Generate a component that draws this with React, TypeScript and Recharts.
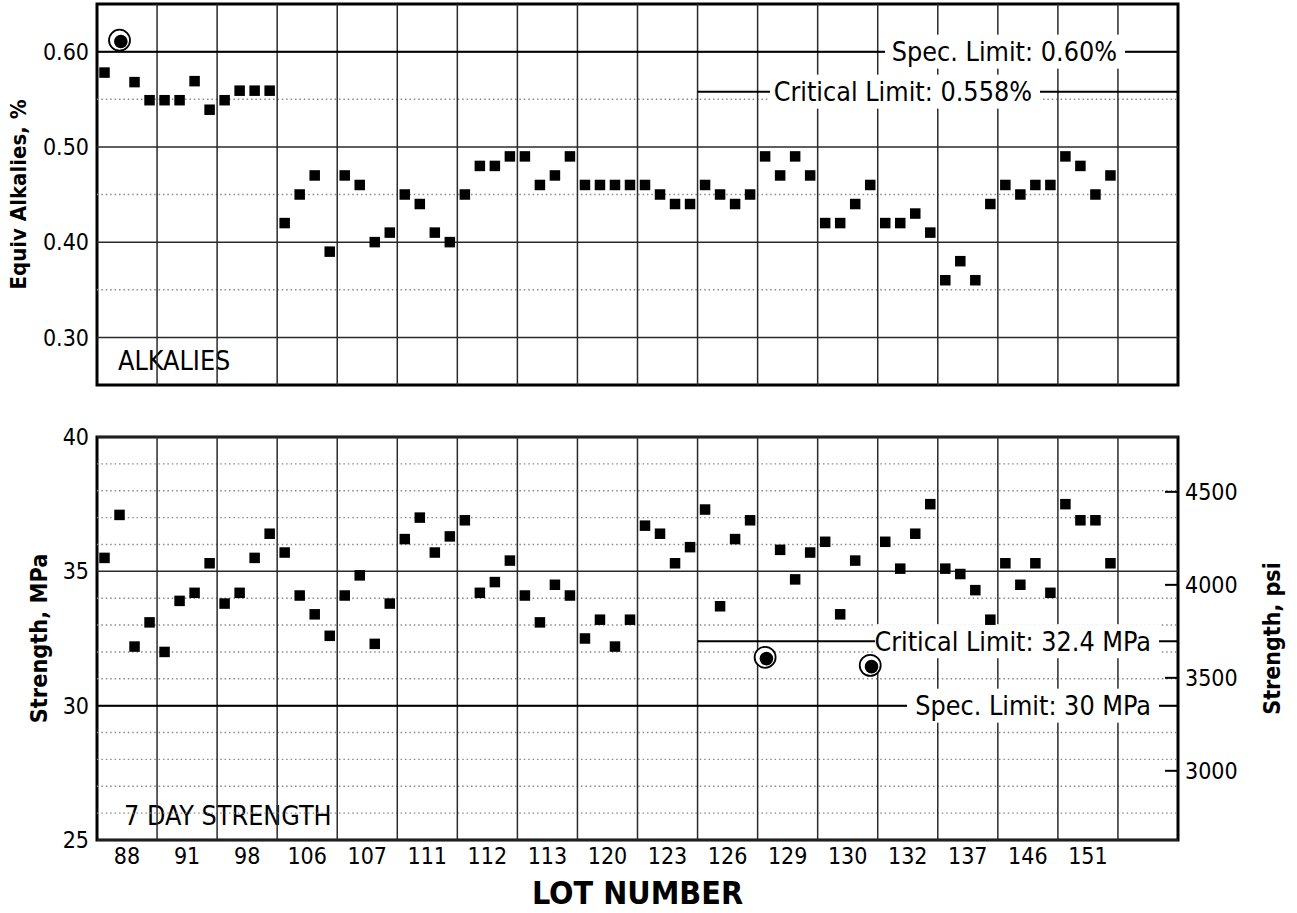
import React from 'react';
import { ScatterChart, Scatter, XAxis, YAxis, ReferenceLine, ReferenceArea } from 'recharts';

// ---------- data ----------
const lotLabels = ['88', '91', '98', '106', '107', '111', '112', '113', '120', '123', '126', '129', '130', '132', '137', '146', '151'];
const samplesPerLot = 4;
const emptyTrailingLots = 1;

const alkaliValues = [
  0.578, 0.612, 0.568, 0.549,
  0.549, 0.549, 0.569, 0.539,
  0.549, 0.559, 0.559, 0.559,
  0.42, 0.45, 0.47, 0.39,
  0.47, 0.46, 0.40, 0.41,
  0.45, 0.44, 0.41, 0.40,
  0.45, 0.48, 0.48, 0.49,
  0.49, 0.46, 0.47, 0.49,
  0.46, 0.46, 0.46, 0.46,
  0.46, 0.45, 0.44, 0.44,
  0.46, 0.45, 0.44, 0.45,
  0.49, 0.47, 0.49, 0.47,
  0.42, 0.42, 0.44, 0.46,
  0.42, 0.42, 0.43, 0.41,
  0.36, 0.38, 0.36, 0.44,
  0.46, 0.45, 0.46, 0.46,
  0.49, 0.48, 0.45, 0.47,
];
const alkaliFlagged = [1];

const strengthValues = [
  35.5, 37.1, 32.2, 33.1,
  32.0, 33.9, 34.2, 35.3,
  33.8, 34.2, 35.5, 36.4,
  35.7, 34.1, 33.4, 32.6,
  34.1, 34.85, 32.3, 33.8,
  36.2, 37.0, 35.7, 36.3,
  36.9, 34.2, 34.6, 35.4,
  34.1, 33.1, 34.5, 34.1,
  32.5, 33.2, 32.2, 33.2,
  36.7, 36.4, 35.3, 35.9,
  37.3, 33.7, 36.2, 36.9,
  31.8, 35.8, 34.7, 35.7,
  36.1, 33.4, 35.4, 31.5,
  36.1, 35.1, 36.4, 37.5,
  35.1, 34.9, 34.3, 33.2,
  35.3, 34.5, 35.3, 34.2,
  37.5, 36.9, 36.9, 35.3,
];
const strengthFlagged = [44, 51];

const alkaliDomain = [0.25, 0.65];
const alkaliMajorTicks = [0.3, 0.4, 0.5, 0.6];
const alkaliMinorTicks = [0.35, 0.45, 0.55];
const alkaliSpecLimit = 0.6;
const alkaliCriticalLimit = 0.558;

const strengthDomain = [25, 40];
const strengthMajorTicks = [25, 30, 35, 40];
const strengthMinorTicks = [26, 27, 28, 29, 31, 32, 33, 34, 36, 37, 38, 39];
const strengthSpecLimit = 30;
const strengthCriticalLimit = 32.4;

const psiDomain = [2628, 4795];
const psiTicks = [3000, 3500, 4000, 4500];

const criticalStartLot = '126';

// ---------- derived ----------
const columnCount = lotLabels.length + emptyTrailingLots;
const xDomain = [0.5, columnCount * samplesPerLot + 0.5];
const lotBoundaries = Array.from({ length: columnCount - 1 }, (_, k) => (k + 1) * samplesPerLot + 0.5);
const lotCenters = lotLabels.map((_, k) => k * samplesPerLot + (samplesPerLot + 1) / 2);
const criticalStartX = lotLabels.indexOf(criticalStartLot) * samplesPerLot + 0.5;

const toPoints = (values: number[], flagged: number[]) =>
  values.map((v, i) => ({ sample: i + 1, value: v, flagged: flagged.includes(i) }));

const alkaliPoints = toPoints(alkaliValues, alkaliFlagged);
const strengthPoints = toPoints(strengthValues, strengthFlagged);

// ---------- styles ----------
const FONT = "'DejaVu Sans Condensed', 'DejaVu Sans', sans-serif";
const TICK_SIZE = 23;
const NOTE_SIZE = 26.7;
const GRID = '#2a2a2a';
const DOT = '#8a8a8a';

const Square = (props: any) => {
  const { cx, cy } = props;
  if (cx == null || cy == null) return null;
  return <rect x={cx - 5.25} y={cy - 5.25} width={10.5} height={10.5} fill="#000" />;
};

const Ring = (props: any) => {
  const { cx, cy } = props;
  if (cx == null || cy == null) return null;
  return (
    <g>
      <circle cx={cx} cy={cy} r={10.5} fill="#fff" stroke="#000" strokeWidth={1.8} />
      <circle cx={cx + 1.3} cy={cy + 1.3} r={6.8} fill="#000" />
    </g>
  );
};

const limitLabel = (text: string, rightGap: number, boxWidth: number) => (props: any) => {
  const vb = props.viewBox;
  if (!vb) return null;
  const right = vb.x + vb.width - rightGap;
  return (
    <g>
      <rect x={right + 8 - boxWidth} y={vb.y - 17} width={boxWidth} height={34} fill="#fff" />
      <text x={right} y={vb.y + 9.5} textAnchor="end" fontSize={NOTE_SIZE} fontFamily={FONT} fill="#000">
        {text}
      </text>
    </g>
  );
};

const cornerNote = (text: string, dx: number, boxWidth: number) => (props: any) => {
  const vb = props.viewBox;
  if (!vb) return null;
  const base = vb.y + vb.height - 15;
  return (
    <g>
      <rect x={vb.x + dx - 7} y={base - 27} width={boxWidth} height={34} fill="#fff" />
      <text x={vb.x + dx} y={base} fontSize={NOTE_SIZE} fontFamily={FONT} fill="#000">
        {text}
      </text>
    </g>
  );
};

const axisTitle = (text: string, dx: number, size: number) => (props: any) => {
  const vb = props.viewBox;
  if (!vb) return null;
  const cx = vb.x + dx;
  const cy = vb.y + vb.height / 2;
  return (
    <text
      transform={`translate(${cx},${cy}) rotate(-90)`}
      textAnchor="middle"
      dominantBaseline="central"
      fontSize={size}
      fontWeight="bold"
      fontFamily={FONT}
      fill="#000"
    >
      {text}
    </text>
  );
};

const PsiTick = (props: any) => {
  const { x, y, payload } = props;
  return (
    <g>
      <line x1={x - 20} x2={x - 7} y1={y} y2={y} stroke="#000" strokeWidth={2} />
      <text x={x} y={y + 8.3} textAnchor="start" fontSize={TICK_SIZE} fontFamily={FONT} fill="#000">
        {payload.value}
      </text>
    </g>
  );
};

const lotTickFormatter = (v: number) => {
  const k = lotCenters.indexOf(v);
  return k >= 0 ? lotLabels[k] : '';
};

const verticalLines = (keyPrefix: string) =>
  lotBoundaries.map((b) => (
    <ReferenceLine key={`${keyPrefix}-v-${b}`} x={b} stroke={GRID} strokeWidth={1.5} />
  ));

const horizontalLines = (keyPrefix: string, major: number[], minor: number[]) => [
  ...minor.map((t) => (
    <ReferenceLine key={`${keyPrefix}-m-${t}`} y={t} stroke={DOT} strokeWidth={1.4} strokeDasharray="1.5 2.9" />
  )),
  ...major.map((t) => (
    <ReferenceLine key={`${keyPrefix}-M-${t}`} y={t} stroke={GRID} strokeWidth={1.5} />
  )),
];

export default function App() {
  return (
    <div style={{ position: 'absolute', left: 0, top: 0, width: 1297, height: 913, background: '#fff', fontFamily: FONT }}>
      <ScatterChart width={1297} height={400} margin={{ top: 4, right: 119, bottom: 15, left: 37 }}>
        <XAxis type="number" dataKey="sample" domain={xDomain} hide allowDataOverflow />
        <YAxis
          type="number"
          dataKey="value"
          domain={alkaliDomain}
          ticks={alkaliMajorTicks}
          allowDataOverflow
          width={60}
          axisLine={false}
          tickLine={false}
          tickFormatter={(v: number) => v.toFixed(2)}
          tick={{ fontSize: TICK_SIZE, fill: '#000', fontFamily: FONT }}
          label={axisTitle('Equiv Alkalies, %', -19, 22)}
        />
        {horizontalLines('a', alkaliMajorTicks, alkaliMinorTicks)}
        {verticalLines('a')}
        <ReferenceLine
          y={alkaliSpecLimit}
          stroke="#000"
          strokeWidth={2}
          label={limitLabel('Spec. Limit: 0.60%', 61, 240)}
        />
        <ReferenceLine
          segment={[{ x: criticalStartX, y: alkaliCriticalLimit }, { x: xDomain[1], y: alkaliCriticalLimit }]}
          stroke="#000"
          strokeWidth={2}
          label={limitLabel('Critical Limit: 0.558%', 146, 270)}
        />
        <ReferenceArea
          x1={xDomain[0]}
          x2={xDomain[1]}
          y1={alkaliDomain[0]}
          y2={alkaliDomain[1]}
          fill="none"
          fillOpacity={0}
          stroke="#000"
          strokeWidth={3}
          label={cornerNote('ALKALIES', 21, 128)}
        />
        <Scatter data={alkaliPoints.filter((p) => !p.flagged)} shape={Square} isAnimationActive={false} />
        <Scatter data={alkaliPoints.filter((p) => p.flagged)} shape={Ring} isAnimationActive={false} />
      </ScatterChart>

      <ScatterChart width={1297} height={513} margin={{ top: 37, right: 0, bottom: 0, left: 37 }}>
        <XAxis
          type="number"
          dataKey="sample"
          domain={xDomain}
          allowDataOverflow
          ticks={lotCenters}
          interval={0}
          height={73}
          axisLine={false}
          tickLine={false}
          tickFormatter={lotTickFormatter}
          tick={{ fontSize: TICK_SIZE, fill: '#000', fontFamily: FONT }}
          label={(props: any) => {
            const vb = props.viewBox;
            if (!vb) return null;
            return (
              <text x={vb.x + vb.width / 2} y={vb.y + 64} textAnchor="middle" fontSize={32} fontWeight="bold" fontFamily={FONT} fill="#000">
                LOT NUMBER
              </text>
            );
          }}
        />
        <YAxis
          type="number"
          dataKey="value"
          domain={strengthDomain}
          ticks={strengthMajorTicks}
          allowDataOverflow
          width={60}
          axisLine={false}
          tickLine={false}
          tick={{ fontSize: TICK_SIZE, fill: '#000', fontFamily: FONT }}
          label={axisTitle('Strength, MPa', 1, 23.3)}
        />
        <YAxis
          yAxisId="psi"
          orientation="right"
          type="number"
          domain={psiDomain}
          ticks={psiTicks}
          allowDataOverflow
          width={119}
          axisLine={false}
          tickLine={false}
          tickSize={0}
          tickMargin={7}
          tick={PsiTick}
          label={axisTitle('Strength, psi', 94, 23)}
        />
        {horizontalLines('s', strengthMajorTicks, strengthMinorTicks)}
        {verticalLines('s')}
        <ReferenceLine
          segment={[{ x: criticalStartX, y: strengthCriticalLimit }, { x: xDomain[1], y: strengthCriticalLimit }]}
          stroke="#000"
          strokeWidth={2}
          label={limitLabel('Critical Limit: 32.4 MPa', 27, 284)}
        />
        <ReferenceLine
          y={strengthSpecLimit}
          stroke="#000"
          strokeWidth={2}
          label={limitLabel('Spec. Limit: 30 MPa', 27, 252)}
        />
        <ReferenceArea
          x1={xDomain[0]}
          x2={xDomain[1]}
          y1={strengthDomain[0]}
          y2={strengthDomain[1]}
          fill="none"
          fillOpacity={0}
          stroke="#000"
          strokeWidth={3}
          label={cornerNote('7 DAY STRENGTH', 27, 224)}
        />
        <Scatter data={strengthPoints.filter((p) => !p.flagged)} shape={Square} isAnimationActive={false} />
        <Scatter data={strengthPoints.filter((p) => p.flagged)} shape={Ring} isAnimationActive={false} />
      </ScatterChart>
    </div>
  );
}
